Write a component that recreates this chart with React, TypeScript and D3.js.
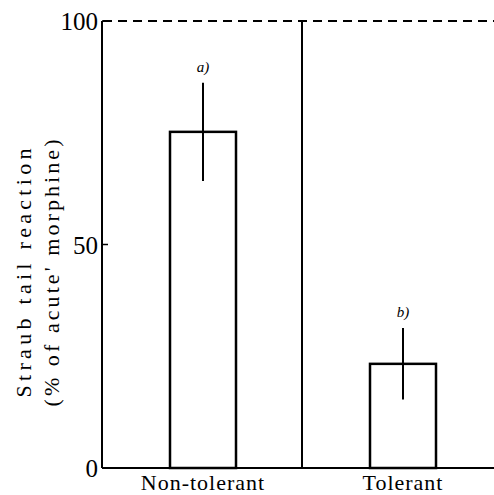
import React from "react";
import * as d3 from "d3";

const categories = ["Non-tolerant", "Tolerant"];
const values = [75.2, 23.3];
const errors = [11, 8];
const sigLabels = ["a)", "b)"];
const yTicks = [0, 50, 100];
const yLabelLines = ["Straub tail reaction", "(% of acute' morphine)"];

export default function App() {
  const W = 494, H = 495;
  const y = d3.scaleLinear().domain([0, 100]).range([468, 21]);
  const x = d3.scaleBand().domain(categories).range([103, 503]).paddingInner(0).paddingOuter(0);
  const barW = 66;
  const font = "'Liberation Serif', 'Times New Roman', serif";
  const sepX = 302;
  const lineLens = [249, 267];
  return (
    <svg width={W} height={H} style={{ position: "absolute", left: 0, top: 0, background: "#fff" }}>
      <line x1={103} x2={W} y1={y(100)} y2={y(100)} stroke="#000" strokeWidth={2} strokeDasharray="9,6" />
      <line x1={102} x2={102} y1={y(100)} y2={y(0)} stroke="#000" strokeWidth={2} />
      <line x1={102} x2={W} y1={y(0)} y2={y(0)} stroke="#000" strokeWidth={2} />
      <line x1={sepX} x2={sepX} y1={y(100)} y2={y(0)} stroke="#000" strokeWidth={2} />
      {yTicks.map((t) => (
        <g key={t}>
          <line x1={102} x2={108} y1={y(t)} y2={y(t)} stroke="#000" strokeWidth={1.5} />
          <text x={98} y={y(t) + 9} textAnchor="end" fontFamily={font} fontSize={25}>{t}</text>
        </g>
      ))}
      {categories.map((c, i) => {
        const cx = (x(c) as number) + x.bandwidth() / 2;
        return (
          <g key={c}>
            <rect x={cx - barW / 2} y={y(values[i])} width={barW} height={y(0) - y(values[i])}
              fill="none" stroke="#000" strokeWidth={2.5} />
            <line x1={cx} x2={cx} y1={y(values[i] + errors[i])} y2={y(values[i] - errors[i])}
              stroke="#000" strokeWidth={2} />
            <text x={cx} y={y(values[i] + errors[i]) - 11} textAnchor="middle" fontFamily={font}
              fontStyle="italic" fontSize={15}>{sigLabels[i]}</text>
            <text x={cx} y={490} textAnchor="middle" fontFamily={font} fontSize={22} letterSpacing={1}>{c}</text>
          </g>
        );
      })}
      <g transform="translate(0,273) rotate(-90)">
        {yLabelLines.map((l, i) => (
          <text key={l} x={-lineLens[i] / 2} y={31 + i * 28} textLength={lineLens[i]} lengthAdjust="spacing"
            fontFamily={font} fontSize={22}>{l}</text>
        ))}
      </g>
    </svg>
  );
}
